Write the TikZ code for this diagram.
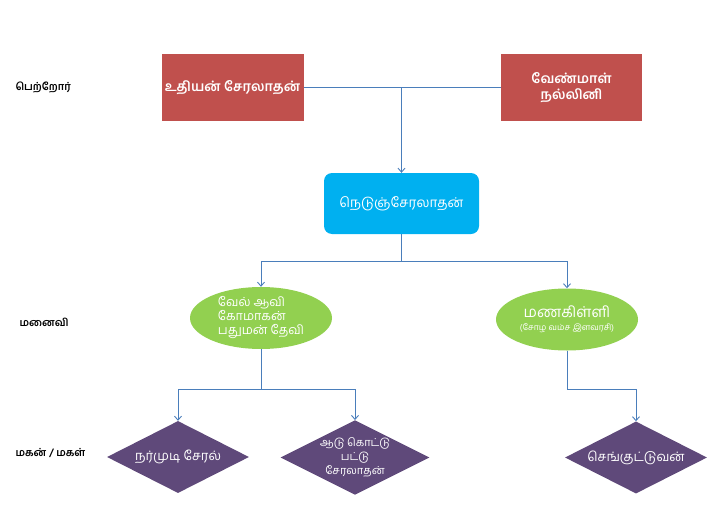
\documentclass[tikz,border=0pt]{standalone}
\usepackage{fontspec}
\usetikzlibrary{shapes.geometric,arrows.meta}
\newfontfamily\tamil[Script=Tamil]{Hind Madurai}
\definecolor{parentred}{HTML}{C0504D}
\definecolor{childcyan}{HTML}{00B0F0}
\definecolor{wifegreen}{HTML}{92D050}
\definecolor{sonpurple}{HTML}{5F497A}
\definecolor{linkblue}{HTML}{4A7EBB}

\begin{document}
\begin{tikzpicture}[x=1pt,y=-1pt,
  font=\tamil\fontsize{12.5}{14}\selectfont,
  parentbox/.style={fill=parentred, minimum width=141pt, minimum height=67pt,
    text=white, align=center, font=\tamil\bfseries\fontsize{13.5}{16}\selectfont},
  heirbox/.style={fill=childcyan, rounded corners=8pt, minimum width=155pt,
    minimum height=61pt, text=white, font=\tamil\fontsize{13.5}{16}\selectfont},
  wifenode/.style={ellipse, fill=wifegreen, minimum width=142pt,
    minimum height=62pt, inner sep=0pt, text=white},
  sonnode/.style={diamond, fill=sonpurple, aspect=2, minimum width=142pt,
    minimum height=72pt, inner sep=0pt, text=white, align=center},
  rowlabel/.style={anchor=west, font=\tamil\bfseries\fontsize{10.5}{12}\selectfont},
  link/.style={draw=linkblue, line width=0.9pt},
  arrow/.style={link, -{Straight Barb[length=4pt,width=7pt]}}]

  \useasboundingbox (0,0) rectangle (711,527);

  % generation labels
  \node[rowlabel] (lparents) at (12,87) {பெற்றோர்};
  \node[rowlabel] (lwives) at (16,322) {மனைவி};
  \node[rowlabel] (lsons) at (12,453) {மகன் / மகள்};

  % parents
  \node[parentbox] (udhiyan) at (232.5,87.5) {உதியன் சேரலாதன்};
  \node[parentbox] (venmal) at (571.5,87.5) {வேண்மாள்\\நல்லினி};

  \node[heirbox] (nedum) at (401.5,203.5) {நெடுஞ்சேரலாதன்};

  % wives
  \node[wifenode, align=left] (velavi) at (261,318) {வேல் ஆவி\\கோமாகன்\\பதுமன் தேவி};
  \node[wifenode, align=center] (manakilli) at (567,319.5)
    {{\fontsize{15}{16}\selectfont மணகிள்ளி}\\[-1pt]{\fontsize{8.5}{10}\selectfont (சோழ வம்ச இளவரசி)}};

  % sons
  \node[sonnode, font=\tamil\fontsize{13}{14}\selectfont] (narmudi) at (178,457) {நர்முடி சேரல்};
  \node[sonnode, font=\tamil\fontsize{11}{14}\selectfont] (adu) at (355,457.5) {ஆடு கொட்டு\\பட்டு\\சேரலாதன்};
  \node[sonnode, font=\tamil\fontsize{13}{14}\selectfont] (sengut) at (636,457.5) {செங்குட்டுவன்};

  % connectors
  \draw[link] (udhiyan.east) -- (venmal.west);
  \draw[arrow] (udhiyan.east -| nedum.north) -- (nedum.north);

  \draw[link] (nedum.south) -- ++(0,27) coordinate (wivesjoin);
  \draw[arrow] (wivesjoin) -| (velavi.north);
  \draw[arrow] (wivesjoin) -| (manakilli.north);

  \draw[link] (velavi.south) -- ++(0,40) coordinate (sonsjoin);
  \draw[arrow] (sonsjoin) -| (narmudi.north);
  \draw[arrow] (sonsjoin) -| (adu.north);

  \draw[link] (manakilli.south) -- ++(0,39) coordinate (sengutjoin);
  \draw[arrow] (sengutjoin) -| (sengut.north);
\end{tikzpicture}
\end{document}
